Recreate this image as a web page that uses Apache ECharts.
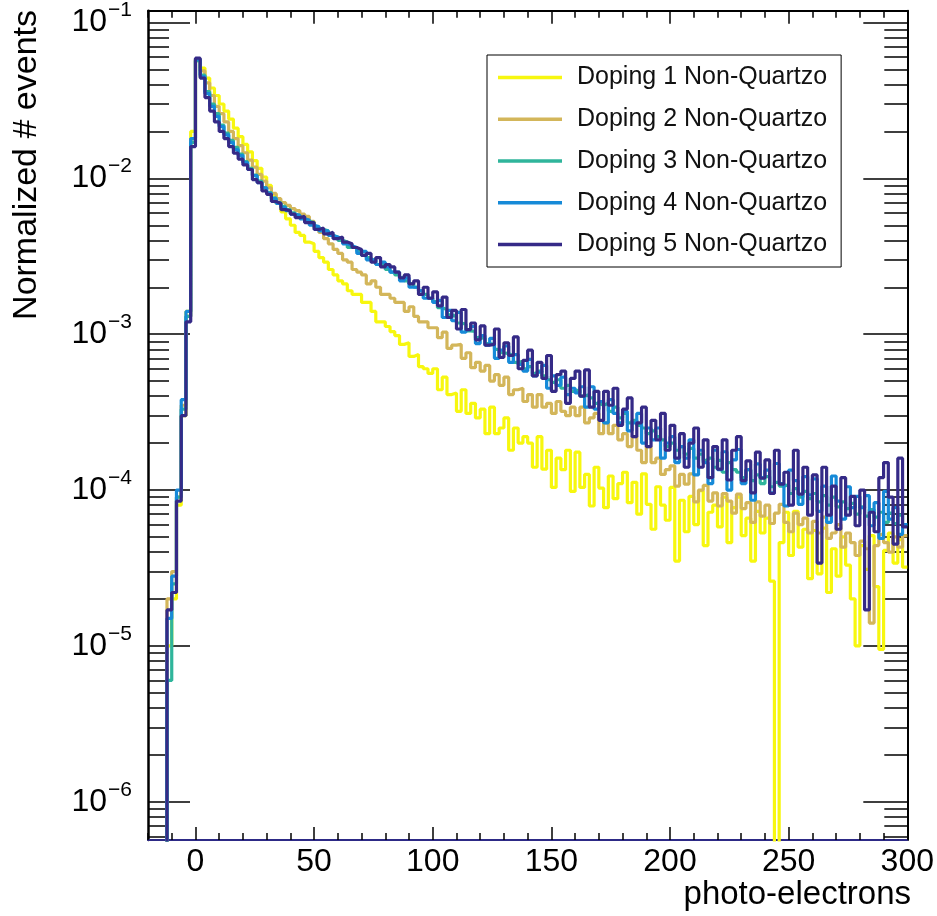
<!DOCTYPE html>
<html>
<head>
<meta charset="UTF-8">
<title>photo-electrons</title>
<script src="https://cdn.jsdelivr.net/npm/echarts@6.0.0/dist/echarts.min.js"></script>
<style>
  html, body { margin: 0; padding: 0; background: #fff; }
  #main { width: 937px; height: 916px; }
</style>
</head>
<body>
<div id="main"></div>
<script type="text/javascript">
// histogram bins: 2 photo-electrons wide, first bin starts at -20
var binStart = -20;
var binWidth = 2;

var seriesNames = ['Doping 1 Non-Quartzo', 'Doping 2 Non-Quartzo', 'Doping 3 Non-Quartzo',
                   'Doping 4 Non-Quartzo', 'Doping 5 Non-Quartzo'];
var seriesColors = ['#f7f70f', '#d3b65a', '#2fb59b', '#168ad8', '#352a87'];

// normalized # events per bin (0 = empty bin), 10 bins per row
var doping1 = [
  0, 0, 0, 0, 1.0e-5, 2.0e-5, 8.0e-5, 3.0e-4, 1.4e-3, 2.0e-2,
  0.058, 0.051, 0.044, 0.038, 0.034, 0.030, 0.027, 0.024, 0.021, 0.0185,
  0.0165, 0.0148, 0.0130, 0.0116, 0.0102, 0.0090, 0.0079, 0.0069, 0.0061, 0.0055,
  0.0050, 0.0045, 0.0043, 0.0039, 0.0038, 0.0034, 0.0031, 0.0029, 0.0026, 0.0024,
  0.0022, 0.0021, 0.0019, 0.0018, 0.0018, 0.0016, 0.0016, 0.0014, 0.0012, 0.0012,
  0.00112, 0.00104, 0.00098, 0.00086, 0.00088, 0.00072, 0.00074, 0.00062, 0.00060, 0.00056,
  0.00060, 0.00044, 0.00053, 0.00041, 0.00042, 0.00032, 0.00044, 0.00031, 0.00036, 0.00029,
  0.00033, 0.00023, 0.00034, 0.00023, 0.00025, 0.00029, 0.00018, 0.00025, 0.00020, 0.00022,
  0.00020, 0.00014, 0.00022, 0.000136, 0.00018, 0.000104, 0.00016, 0.000135, 0.00018, 0.000098,
  0.000175, 0.000104, 0.000126, 0.000079, 0.00014, 0.000103, 0.000077, 0.000123, 0.000088, 0.00011,
  0.00013, 0.000083, 0.000112, 0.00007, 0.000127, 0.000081, 0.000056, 0.000105, 0.00008, 0.000064,
  0.000104, 0.000035, 0.000086, 0.000054, 0.000091, 0.00006, 0.000099, 0.000044, 0.000072, 0.00008,
  0.000058, 0.00009, 0.000046, 0.000077, 0.00009, 0.000051, 0.000066, 0.000035, 0.000073, 0.000053,
  0.000066, 0.000026, 0, 0.000046, 0.000072, 0.000038, 0.000073, 0.000043, 0.000056, 0.000027,
  0.000055, 0.000029, 0.000057, 0.000022, 0.000042, 0.000028, 0.00005, 0.000033, 0.00002, 0.00001,
  0.000044, 0.000031, 0.000051, 0.000024, 0.0000095, 0.000041, 0.000053, 0.000034, 0.000048, 0.000032
];

var doping2 = [
  0, 0, 0, 0, 2.0e-5, 3.0e-5, 9.0e-5, 3.5e-4, 1.3e-3, 1.8e-2,
  0.057, 0.049, 0.041, 0.034, 0.029, 0.026, 0.023, 0.020, 0.018, 0.0162,
  0.0146, 0.0131, 0.0118, 0.0106, 0.0096, 0.0087, 0.0080, 0.0074, 0.0070, 0.0067,
  0.0064, 0.0062, 0.0059, 0.0057, 0.0053, 0.0048, 0.0045, 0.0041, 0.0038, 0.0035,
  0.0033, 0.0030, 0.0029, 0.0026, 0.0025, 0.0024, 0.0021, 0.0022, 0.0020, 0.0018,
  0.0018, 0.0017, 0.0016, 0.0016, 0.0014, 0.0015, 0.0013, 0.0012, 0.0012, 0.0011,
  0.0011, 0.00095, 0.00103, 0.00081, 0.00085, 0.00086, 0.0007, 0.00076, 0.00061, 0.00066,
  0.00058, 0.00063, 0.0005, 0.00055, 0.00047, 0.00053, 0.00041, 0.00044, 0.00045, 0.00037,
  0.00041, 0.00034, 0.00041, 0.00034, 0.00036, 0.00031, 0.00037, 0.00032, 0.0003, 0.00034,
  0.0003, 0.00034, 0.00027, 0.00029, 0.00031, 0.00023, 0.00027, 0.00023, 0.00026, 0.00021,
  0.00023, 0.00019, 0.00022, 0.00018, 0.00015, 0.00019, 0.00015, 0.00016, 0.000126, 0.000135,
  0.000143, 0.000106, 0.000126, 0.000109, 0.000127, 0.000084, 0.0001, 0.000107, 0.000085, 0.000096,
  0.000079, 0.000095, 0.000085, 0.000071, 0.000094, 0.000076, 0.000083, 0.000062, 0.000084, 0.000068,
  0.00008, 0.000061, 0.000071, 0.000081, 0.000062, 0.000054, 0.000071, 0.00006, 0.000066, 0.000053,
  0.000063, 0.000053, 0.000067, 0.000049, 0.000053, 0.00006, 0.000043, 0.000053, 0.000046, 0.000038,
  0.000047, 0.000042, 0.000014, 0.000044, 0.000052, 0.000046, 0.00004, 0.00005, 0.000043, 0.000051
];

var doping3 = [
  0, 0, 0, 0, 6.0e-6, 2.5e-5, 9.0e-5, 3.3e-4, 1.3e-3, 1.7e-2,
  0.057, 0.046, 0.036, 0.030, 0.026, 0.022, 0.0195, 0.0175, 0.0158, 0.0143,
  0.0128, 0.0116, 0.0105, 0.0096, 0.0087, 0.0081, 0.0075, 0.0070, 0.0066, 0.0063,
  0.0060, 0.0058, 0.0056, 0.0053, 0.0052, 0.0049, 0.0047, 0.0046, 0.0043, 0.0042,
  0.0040, 0.0039, 0.0036, 0.0036, 0.0034, 0.0032, 0.0031, 0.0030, 0.0028, 0.0028,
  0.0026, 0.0025, 0.0024, 0.0023, 0.0022, 0.0021, 0.0020, 0.0019, 0.0018, 0.0017,
  0.00162, 0.00148, 0.00144, 0.00133, 0.0013, 0.00118, 0.00116, 0.00105, 0.00104, 0.00095,
  0.00094, 0.00087, 0.00086, 0.0008, 0.00076, 0.00075, 0.00073, 0.00066, 0.00067, 0.0006,
  0.00062, 0.00056, 0.00058, 0.00054, 0.00051, 0.00049, 0.00051, 0.00045, 0.00047, 0.00043,
  0.00044, 0.0004, 0.00041, 0.00039, 0.00036, 0.00035, 0.00036, 0.00032, 0.00034, 0.00029,
  0.00031, 0.00027, 0.00028, 0.00026, 0.00025, 0.00023, 0.00024, 0.00022, 0.00021, 0.00019,
  0.0002, 0.00018, 0.00019, 0.00017, 0.000185, 0.00016, 0.00017, 0.000155, 0.00016, 0.00014,
  0.000155, 0.00013, 0.00015, 0.000135, 0.00013, 0.00012, 0.000135, 0.000115, 0.000125, 0.00011,
  0.000122, 0.000105, 0.000112, 0.000106, 0.000108, 0.000095, 0.000102, 0.00009, 0.000098, 0.000088,
  0.000095, 0.000084, 0.000092, 0.00008, 0.00009, 0.000078, 0.000084, 0.000076, 0.000082, 0.00007,
  0.000078, 0.000068, 0.000075, 0.000067, 0.000072, 0.000062, 0.000071, 0.000061, 0.000069, 0.00006
];

var doping4 = [
  0, 0, 0, 0, 1.5e-5, 2.8e-5, 1.0e-4, 3.8e-4, 1.4e-3, 1.8e-2,
  0.058, 0.045, 0.035, 0.029, 0.025, 0.0215, 0.019, 0.017, 0.0153, 0.0140,
  0.0126, 0.0114, 0.0104, 0.0094, 0.0087, 0.0080, 0.0074, 0.0069, 0.0065, 0.0062,
  0.0059, 0.0058, 0.0055, 0.0054, 0.0050, 0.0049, 0.0046, 0.0046, 0.0043, 0.0042,
  0.0041, 0.0038, 0.0037, 0.0036, 0.0033, 0.0034, 0.0030, 0.0030, 0.0028, 0.0029,
  0.0027, 0.0025, 0.0025, 0.0022, 0.0023, 0.0020, 0.0020, 0.0019, 0.0017, 0.0017,
  0.0016, 0.00165, 0.00128, 0.00142, 0.00122, 0.00138, 0.00103, 0.00107, 0.00112, 0.00087,
  0.00098, 0.00085, 0.00094, 0.0007, 0.00079, 0.00084, 0.00066, 0.00074, 0.00064, 0.00058,
  0.00069, 0.00054, 0.00057, 0.00063, 0.00045, 0.00054, 0.00047, 0.00053, 0.00041, 0.00045,
  0.00042, 0.00046, 0.00034, 0.00046, 0.00033, 0.00037, 0.00027, 0.00038, 0.00031, 0.00027,
  0.00032, 0.00024, 0.00027, 0.00031, 0.0002, 0.00025, 0.00021, 0.00025, 0.00016, 0.0002,
  0.00022, 0.00015, 0.00019, 0.00016, 0.00021, 0.000125, 0.00018, 0.00015, 0.00011, 0.00018,
  0.000135, 0.000176, 0.0001, 0.000156, 0.000182, 0.00011, 0.000135, 0.000086, 0.000147, 0.00012,
  0.000134, 0.000096, 0.000148, 0.00011, 0.000079, 0.000134, 0.000115, 0.000081, 0.000122, 0.000093,
  0.000118, 0.000073, 0.000106, 0.000062, 0.000123, 0.000085, 0.000065, 0.000105, 0.000077, 0.000091,
  0.000077, 0.000092, 0.000059, 0.000083, 0.000049, 0.000098, 0.000065, 0.000077, 0.000052, 0.00006
];

var doping5 = [
  0, 0, 0, 0, 1.7e-5, 2.2e-5, 8.5e-5, 3.0e-4, 1.2e-3, 1.6e-2,
  0.059, 0.044, 0.033, 0.027, 0.023, 0.020, 0.018, 0.016, 0.0145, 0.0133,
  0.0122, 0.0114, 0.0098, 0.0094, 0.0083, 0.0079, 0.0071, 0.0069, 0.0063, 0.0062,
  0.0059, 0.0056, 0.0057, 0.0052, 0.0052, 0.0047, 0.0048, 0.0044, 0.0045, 0.0041,
  0.0042, 0.0039, 0.0038, 0.0036, 0.0035, 0.0032, 0.0033, 0.0029, 0.0031, 0.0027,
  0.0028, 0.0027, 0.0025, 0.0023, 0.0024, 0.0021, 0.0022, 0.0018, 0.0020, 0.0017,
  0.00187, 0.00152, 0.00173, 0.00128, 0.00142, 0.00108, 0.00144, 0.00107, 0.00118, 0.00092,
  0.00113, 0.00085, 0.00086, 0.00108, 0.00071, 0.00088, 0.00073, 0.00096, 0.0006, 0.00068,
  0.00079, 0.00054, 0.00066, 0.00052, 0.00073, 0.00043, 0.00055, 0.00058, 0.00036, 0.00052,
  0.00058, 0.0004, 0.00059, 0.00034, 0.00043, 0.00028, 0.00043, 0.00035, 0.00045, 0.00026,
  0.00033, 0.00039, 0.00022, 0.00027, 0.00034, 0.00019, 0.00028, 0.00021, 0.00031, 0.00018,
  0.00026, 0.00016, 0.00023, 0.00014, 0.0002, 0.00025, 0.00014, 0.00021, 0.00012, 0.00019,
  0.000136, 0.00021, 0.000116, 0.00018, 0.00022, 0.000115, 0.000154, 0.000096, 0.000175, 0.000119,
  0.000156, 0.000095, 0.00018, 0.000109, 0.00013, 0.00008, 0.00018, 0.000094, 0.00014, 0.000069,
  0.000125, 0.000034, 0.00014, 0.000069, 0.000106, 0.000056, 0.00012, 0.000069, 0.000091, 0.000059,
  0.0001, 0.000017, 0.000072, 0.000054, 0.00012, 0.00015, 0.00009, 0.000045, 0.00016, 0.000058
];

var seriesValues = [doping1, doping2, doping3, doping4, doping5];

// axis ticks and labels
var xMajorTicks = [0, 50, 100, 150, 200, 250, 300];
var yMajorTicks = [1e-6, 1e-5, 1e-4, 1e-3, 1e-2, 1e-1];
var yMin = 5.68e-7, yMax = 0.1189;
var xMin = -20, xMax = 300;

var yMinorTicks = [];
for (var k = -7; k <= -2; k++) {
  for (var m = 2; m <= 9; m++) {
    var v = m * Math.pow(10, k);
    if (v > yMin && v < yMax) yMinorTicks.push(v);
  }
}

var font = 'Liberation Sans';
var emptyBin = 1e-12; // empty bins drop below the frame, like ROOT does

var chart = echarts.init(document.getElementById('main'), null, { renderer: 'canvas' });

var series = seriesValues.map(function (vals, s) {
  var pts = vals.map(function (v, i) {
    return [binStart + i * binWidth, v > 0 ? v : emptyBin];
  });
  var last = vals[vals.length - 1];
  pts.push([binStart + vals.length * binWidth, last > 0 ? last : emptyBin]);
  return {
    name: seriesNames[s],
    type: 'line',
    step: 'end',
    symbol: 'none',
    showSymbol: false,
    clip: true,
    data: pts,
    lineStyle: { color: seriesColors[s], width: 3.2 },
    itemStyle: { color: seriesColors[s] },
    xAxisIndex: 0,
    yAxisIndex: 0
  };
});

function xAxisDef(position, major, lineColor) {
  return {
    type: 'value', min: xMin, max: xMax, position: position,
    interval: major ? null : 10,
    axisLine: { show: major, onZero: false, lineStyle: { color: lineColor, width: 2 } },
    axisTick: major
      ? { show: true, inside: true, length: 13, customValues: xMajorTicks, lineStyle: { color: '#000', width: 1.5 } }
      : { show: true, inside: true, length: 7, lineStyle: { color: '#000', width: 1.5 } },
    axisLabel: (major && position === 'bottom')
      ? { show: true, customValues: xMajorTicks, fontSize: 32, fontFamily: font, color: '#000', margin: 6 }
      : { show: false },
    splitLine: { show: false }
  };
}

function yAxisDef(position, major, len) {
  return {
    type: 'log', logBase: 10, min: yMin, max: yMax, position: position,
    axisLine: { show: major, onZero: false, lineStyle: { color: '#000', width: position === 'left' ? 2.5 : 2 } },
    axisTick: { show: true, inside: true, length: len, customValues: major ? yMajorTicks : yMinorTicks,
                lineStyle: { color: '#000', width: 1.5 } },
    axisLabel: (major && position === 'left') ? {
      show: true, customValues: yMajorTicks, margin: 16, color: '#000',
      formatter: function (val) {
        var e = Math.round(Math.log(val) / Math.LN10);
        return '{b|10}{s|\u2212' + (-e) + '}';
      },
      rich: {
        b: { fontSize: 32, fontFamily: font, color: '#000', verticalAlign: 'middle' },
        s: { fontSize: 21, fontFamily: font, color: '#000', verticalAlign: 'middle', padding: [0, 0, 24, 1] }
      }
    } : { show: false },
    splitLine: { show: false }
  };
}

var option = {
  backgroundColor: '#fff',
  animation: false,
  grid: { left: 148, right: 26, top: 10, bottom: 76, show: false },
  xAxis: [
    xAxisDef('bottom', true, '#2d2a86'),
    xAxisDef('bottom', false, '#000'),
    xAxisDef('top', true, '#000'),
    xAxisDef('top', false, '#000')
  ],
  yAxis: [
    yAxisDef('left', true, 42),
    yAxisDef('left', false, 21),
    yAxisDef('right', true, 44),
    yAxisDef('right', false, 23)
  ],
  legend: {
    orient: 'vertical',
    left: 487, top: 55,
    padding: [10, 14, 10, 11],
    icon: 'rect',
    itemWidth: 64, itemHeight: 3.5, itemGap: 16.75,
    borderColor: '#000', borderWidth: 1, backgroundColor: '#fff',
    textStyle: { fontSize: 25, lineHeight: 25, fontFamily: font, color: '#111', padding: [0, 0, 0, 10] },
    data: seriesNames
  },
  graphic: [
    {
      type: 'text', x: 911, y: 895,
      style: { text: 'photo-electrons', fontSize: 33, fontFamily: font, fill: '#000',
               align: 'right', verticalAlign: 'middle' }
    },
    {
      type: 'text', x: 27, y: 10, rotation: Math.PI / 2,
      style: { text: 'Normalized # events', fontSize: 34, fontFamily: font, fill: '#000',
               align: 'right', verticalAlign: 'middle' }
    }
  ],
  series: series
};

chart.setOption(option);
</script>
</body>
</html>
